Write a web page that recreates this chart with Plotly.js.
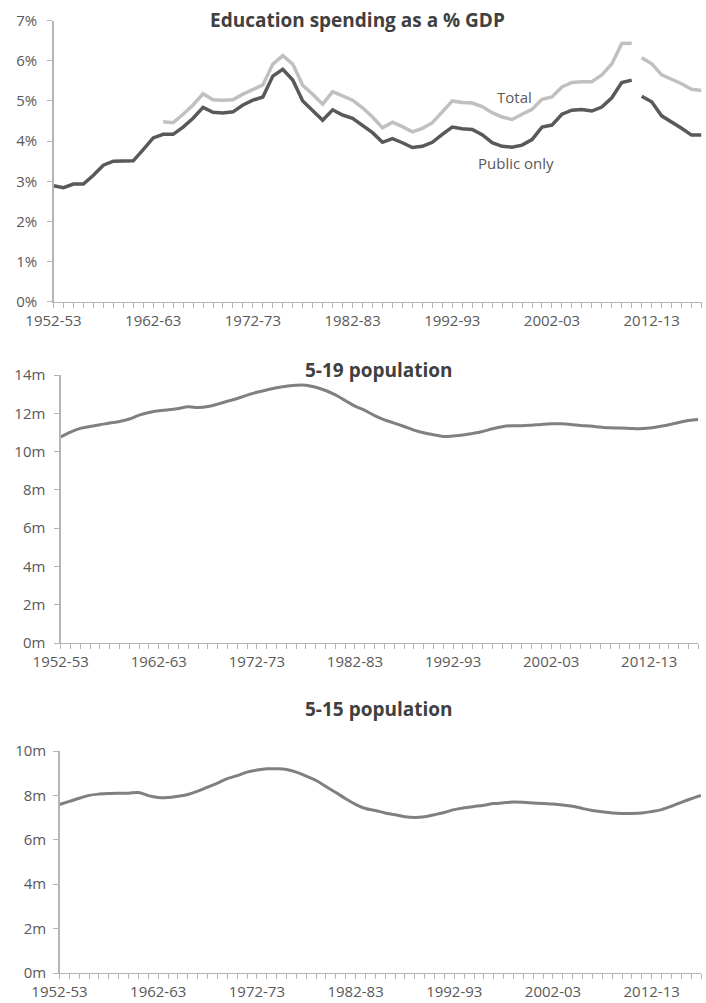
<!DOCTYPE html>
<html>
<head>
<meta charset="utf-8">
<script src="https://cdn.plot.ly/plotly-3.0.1.min.js"></script>
<style>
html,body{margin:0;padding:0;background:#fff;}
#chart{width:706px;height:1003px;}
</style>
</head>
<body>
<div id="chart"></div>
<script>
// ---- Data ----
const categories = [
"1952-53","1953-54","1954-55","1955-56","1956-57","1957-58","1958-59","1959-60","1960-61","1961-62",
"1962-63","1963-64","1964-65","1965-66","1966-67","1967-68","1968-69","1969-70","1970-71","1971-72",
"1972-73","1973-74","1974-75","1975-76","1976-77","1977-78","1978-79","1979-80","1980-81","1981-82",
"1982-83","1983-84","1984-85","1985-86","1986-87","1987-88","1988-89","1989-90","1990-91","1991-92",
"1992-93","1993-94","1994-95","1995-96","1996-97","1997-98","1998-99","1999-00","2000-01","2001-02",
"2002-03","2003-04","2004-05","2005-06","2006-07","2007-08","2008-09","2009-10","2010-11","2011-12",
"2012-13","2013-14","2014-15","2015-16","2016-17","2017-18"];

const tickLabels = ["1952-53","1962-63","1972-73","1982-83","1992-93","2002-03","2012-13"];

// Public spending, % GDP (1952-53 .. 2010-11), then new basis (2011-12 .. 2017-18)
const publicOld = [2.89,2.84,2.93,2.93,3.15,3.40,3.50,3.50,3.51,3.79,
  4.08,4.17,4.17,4.35,4.57,4.84,4.72,4.70,4.73,4.90,
  5.02,5.10,5.62,5.79,5.52,5.00,4.76,4.52,4.78,4.65,
  4.57,4.40,4.21,3.97,4.06,3.96,3.84,3.87,3.97,4.17,
  4.35,4.31,4.29,4.16,3.96,3.87,3.85,3.90,4.04,4.35,
  4.40,4.67,4.77,4.79,4.75,4.85,5.08,5.46,5.52];
const publicNew = [5.12,4.98,4.63,4.48,4.32,4.15,4.15];

// Total spending, % GDP (1963-64 .. 2010-11), then new basis (2011-12 .. 2017-18)
const totalOld = [4.48,4.46,4.67,4.90,5.18,5.03,5.02,5.03,5.17,
  5.28,5.40,5.92,6.13,5.92,5.39,5.17,4.92,5.23,5.12,
  5.02,4.83,4.60,4.33,4.47,4.36,4.23,4.32,4.46,4.73,
  5.00,4.96,4.95,4.86,4.71,4.60,4.54,4.67,4.79,5.04,
  5.10,5.35,5.46,5.48,5.48,5.65,5.92,6.43,6.44];
const totalNew = [6.08,5.93,5.65,5.54,5.43,5.29,5.26];

// 5-19 population, millions
const pop519 = [10.76,11.02,11.21,11.31,11.40,11.49,11.57,11.70,11.90,12.04,
  12.13,12.18,12.25,12.34,12.30,12.35,12.48,12.63,12.77,12.95,
  13.10,13.22,13.33,13.41,13.47,13.47,13.36,13.19,12.96,12.67,
  12.37,12.15,11.88,11.66,11.49,11.31,11.12,10.98,10.88,10.79,
  10.81,10.86,10.95,11.05,11.19,11.30,11.35,11.35,11.38,11.42,
  11.45,11.45,11.42,11.36,11.33,11.28,11.24,11.23,11.21,11.19,
  11.23,11.31,11.40,11.52,11.62,11.68];

// 5-15 population, millions
const pop515 = [7.59,7.73,7.87,8.00,8.06,8.09,8.10,8.10,8.13,7.99,
  7.91,7.90,7.96,8.04,8.19,8.37,8.55,8.76,8.89,9.05,
  9.14,9.20,9.20,9.17,9.05,8.87,8.67,8.40,8.13,7.85,
  7.60,7.41,7.32,7.21,7.13,7.04,7.01,7.04,7.13,7.23,
  7.36,7.44,7.50,7.56,7.63,7.67,7.70,7.69,7.66,7.63,
  7.61,7.57,7.51,7.41,7.32,7.26,7.21,7.19,7.19,7.21,
  7.27,7.36,7.51,7.69,7.85,8.00];

// ---- Layout helpers ----
const W = 706, H = 1003;
const px = v => v / W;
const py = v => (H - v) / H;

const tickText = categories.map(c => tickLabels.includes(c) ? c : "");
const FONT = "Open Sans, Noto Sans, sans-serif";
const AXC = "#b5b5b5";
const TXT = "#595959";

function xAxis(domain, anchor) {
  return {
    type: "category", domain: domain, anchor: anchor,
    categoryorder: "array", categoryarray: categories,
    range: [0, categories.length - 1], autorange: false,
    tickmode: "array", tickvals: categories, ticktext: tickText,
    ticks: "outside", ticklen: 5, tickwidth: 1, tickcolor: AXC,
    showline: true, linecolor: AXC, linewidth: 1.3,
    showgrid: false, zeroline: false, fixedrange: true,
    tickangle: 0,
    tickfont: {family: FONT, size: 15, color: TXT}
  };
}
function yAxis(domain, anchor, range, dtick, suffix, standoff) {
  return {
    domain: domain, anchor: anchor, range: range, autorange: false,
    dtick: dtick, tick0: 0, ticksuffix: suffix,
    ticks: "outside", ticklen: 5, tickwidth: 1, tickcolor: AXC,
    ticklabelstandoff: standoff,
    showline: true, linecolor: AXC, linewidth: 1.3,
    showgrid: false, zeroline: false, fixedrange: true,
    tickfont: {family: FONT, size: 15, color: TXT}
  };
}

const DARK = "#595959", LIGHT = "#c0c0c0", POP = "#808080";

const traces = [
  {x: categories.slice(0, 59), y: publicOld, xaxis: "x", yaxis: "y", type: "scatter", mode: "lines",
   line: {color: DARK, width: 3.5}, hoverinfo: "skip"},
  {x: categories.slice(59), y: publicNew, xaxis: "x", yaxis: "y", type: "scatter", mode: "lines",
   line: {color: DARK, width: 3.5}, hoverinfo: "skip"},
  {x: categories.slice(11, 59), y: totalOld, xaxis: "x", yaxis: "y", type: "scatter", mode: "lines",
   line: {color: LIGHT, width: 3.5}, hoverinfo: "skip"},
  {x: categories.slice(59), y: totalNew, xaxis: "x", yaxis: "y", type: "scatter", mode: "lines",
   line: {color: LIGHT, width: 3.5}, hoverinfo: "skip"},
  {x: categories, y: pop519, xaxis: "x2", yaxis: "y2", type: "scatter", mode: "lines",
   line: {color: POP, width: 3, shape: "spline", smoothing: 1}, hoverinfo: "skip"},
  {x: categories, y: pop515, xaxis: "x3", yaxis: "y3", type: "scatter", mode: "lines",
   line: {color: POP, width: 3, shape: "spline", smoothing: 1}, hoverinfo: "skip"}
];

const layout = {
  width: W, height: H,
  margin: {l: 0, r: 0, t: 0, b: 0, pad: 0},
  paper_bgcolor: "#ffffff", plot_bgcolor: "#ffffff",
  showlegend: false,
  font: {family: FONT, color: TXT},
  xaxis:  xAxis([px(53.5), px(701.5)], "y"),
  yaxis:  yAxis([py(301.7), py(20.7)], "x", [0, 7], 1, "%", 7),
  xaxis2: xAxis([px(60.7), px(698.3)], "y2"),
  yaxis2: yAxis([py(643), py(375)], "x2", [0, 14], 2, "m", 6),
  xaxis3: xAxis([px(59.5), px(701)], "y3"),
  yaxis3: yAxis([py(973), py(751)], "x3", [0, 10], 2, "m", 4),
  annotations: [
    {text: "<b>Education spending as a % GDP</b>", xref: "paper", yref: "paper",
     x: px(357.5), y: py(20.5), xanchor: "center", yanchor: "middle", showarrow: false,
     font: {family: FONT, size: 19, color: "#404040"}},
    {text: "<b>5-19 population</b>", xref: "paper", yref: "paper",
     x: px(379), y: py(369.5), xanchor: "center", yanchor: "middle", showarrow: false,
     font: {family: FONT, size: 19, color: "#404040"}},
    {text: "<b>5-15 population</b>", xref: "paper", yref: "paper",
     x: px(378.5), y: py(709), xanchor: "center", yanchor: "middle", showarrow: false,
     font: {family: FONT, size: 19, color: "#404040"}},
    {text: "Total", xref: "x", yref: "y", x: 46.2, y: 5.1,
     xanchor: "center", yanchor: "middle", showarrow: false,
     font: {family: FONT, size: 15, color: TXT}},
    {text: "Public only", xref: "x", yref: "y", x: 46.4, y: 3.45,
     xanchor: "center", yanchor: "middle", showarrow: false,
     font: {family: FONT, size: 15, color: TXT}}
  ]
};

Plotly.newPlot("chart", traces, layout, {staticPlot: true, displayModeBar: false});
</script>
</body>
</html>
